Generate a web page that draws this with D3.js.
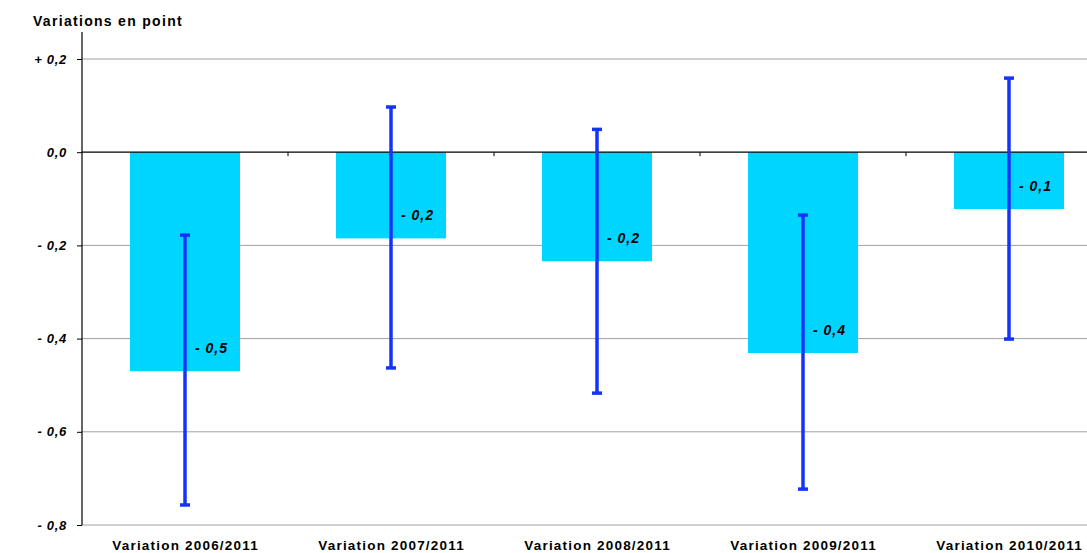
<!DOCTYPE html>
<html><head><meta charset="utf-8">
<script src="https://cdn.jsdelivr.net/npm/d3@7"></script>
<style>body{margin:0;background:#fff;}svg{display:block;font-family:"Liberation Sans",Arial,sans-serif;}</style>
</head><body>
<svg id="c" width="1087" height="553"></svg>
<script>
const categories = ["Variation 2006/2011","Variation 2007/2011","Variation 2008/2011","Variation 2009/2011","Variation 2010/2011"];
const values = [-0.47, -0.185, -0.234, -0.431, -0.122];
const valueLabels = ["- 0,5","- 0,2","- 0,2","- 0,4","- 0,1"];
const errLow = [-0.757, -0.463, -0.517, -0.723, -0.401];
const errHigh = [-0.178, 0.097, 0.049, -0.135, 0.159];
const yTicks = [0.2, 0, -0.2, -0.4, -0.6, -0.8];
const yTickLabels = ["+ 0,2","0,0","- 0,2","- 0,4","- 0,6","- 0,8"];

const svg = d3.select("#c");
const mLeft = 82, mRight = 1112, mTop = 59, mBottom = 525;
const x = d3.scaleBand().domain(categories).range([mLeft, mRight]).paddingInner(0).paddingOuter(0);
const y = d3.scaleLinear().domain([-0.8, 0.2]).range([mBottom, mTop]);
const bw = 110;

// gridlines
svg.append("g").selectAll("line").data(yTicks.filter(d => d !== 0)).join("line")
  .attr("x1", mLeft).attr("x2", 1087).attr("y1", d => y(d)).attr("y2", d => y(d))
  .attr("stroke", "#a0a0a0").attr("stroke-width", 1);

// bars
svg.append("g").selectAll("rect").data(categories).join("rect")
  .attr("x", (d,i) => x(d) + x.bandwidth()/2 - bw/2)
  .attr("width", bw)
  .attr("y", y(0))
  .attr("height", (d,i) => y(values[i]) - y(0))
  .attr("fill", "#00d5ff");

// zero line
svg.append("line").attr("x1", mLeft).attr("x2", 1087).attr("y1", y(0)).attr("y2", y(0))
  .attr("stroke", "#000").attr("stroke-width", 1.2);
// category ticks on zero line
svg.append("g").selectAll("line").data(categories.slice(1)).join("line")
  .attr("x1", d => x(d)).attr("x2", d => x(d)).attr("y1", y(0)).attr("y2", y(0) + 4)
  .attr("stroke", "#000").attr("stroke-width", 1);

// y axis
const yAxis = d3.axisLeft(y).tickValues(yTicks).tickSize(5).tickFormat((d,i) => yTickLabels[i]);
const ga = svg.append("g").attr("transform", `translate(${mLeft},0)`).call(yAxis);
ga.select(".domain").remove();
ga.selectAll(".tick line").attr("stroke", "#000");
ga.selectAll(".tick text").attr("x", -15).attr("font-size", 13).attr("font-weight", "bold")
  .attr("font-style", "italic").attr("fill", "#000").attr("letter-spacing", 0.7)
  .attr("font-family", "'Liberation Sans',Arial,sans-serif");
svg.append("line").attr("x1", mLeft).attr("x2", mLeft).attr("y1", 32).attr("y2", mBottom)
  .attr("stroke", "#000").attr("stroke-width", 1.2);

// error bars
const eb = svg.append("g");
categories.forEach((c, i) => {
  const cx = x(c) + x.bandwidth()/2;
  eb.append("line").attr("x1", cx).attr("x2", cx).attr("y1", y(errHigh[i])).attr("y2", y(errLow[i]))
    .attr("stroke", "#1533ff").attr("stroke-width", 3.5);
  [errHigh[i], errLow[i]].forEach(v => {
    eb.append("line").attr("x1", cx - 5).attr("x2", cx + 5).attr("y1", y(v)).attr("y2", y(v))
      .attr("stroke", "#1533ff").attr("stroke-width", 3.5);
  });
  svg.append("text").attr("x", cx + 10).attr("y", y(values[i]) - 18)
    .attr("font-size", 14).attr("font-weight", "bold").attr("font-style", "italic")
    .attr("letter-spacing", 1)
    .text(valueLabels[i]);
});

// x labels
svg.append("g").selectAll("text").data(categories).join("text")
  .attr("x", d => x(d) + x.bandwidth()/2 + 0.6).attr("y", 550)
  .attr("text-anchor", "middle").attr("font-size", 13.5).attr("font-weight", "bold")
  .attr("letter-spacing", 1.2)
  .text(d => d);

// title
svg.append("text").attr("x", 33).attr("y", 26).attr("font-size", 14).attr("font-weight", "bold")
  .attr("letter-spacing", 1.3)
  .text("Variations en point");
</script>
</body></html>
